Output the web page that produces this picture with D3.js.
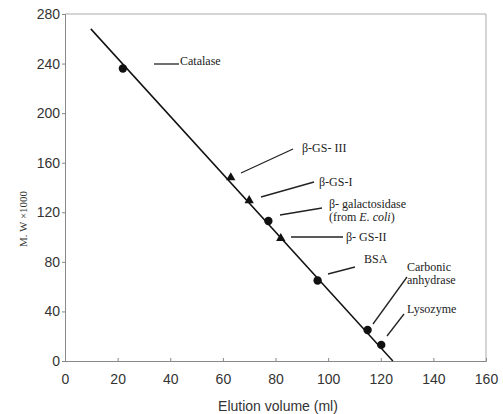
<!DOCTYPE html>
<html>
<head>
<meta charset="utf-8">
<script src="https://cdn.jsdelivr.net/npm/d3@7"></script>
<style>
  body { margin: 0; background: #fff; }
  .tick text { font-family: "Liberation Sans", Arial, sans-serif; font-size: 14px; fill: #333; }
  .lbl { font-family: "Liberation Serif", "Times New Roman", serif; font-size: 12px; fill: #222; }
</style>
</head>
<body>
<div id="chart"></div>
<script>
// proteins on the column: elution volume (ml) vs M.W x1000
var names   = ["Catalase", "β-GS- III", "β-GS-I", "β-galactosidase", "β- GS-II", "BSA", "Carbonic anhydrase", "Lysozyme"];
var elution = [22, 63, 70, 77.3, 82, 96, 115, 120.2];
var mw      = [236, 148, 129.5, 113, 99, 65, 25, 13];
var shapes  = ["circle", "triangle", "triangle", "circle", "triangle", "circle", "circle", "circle"];

// fitted calibration line end points
var fitX = [9.8, 124.6];
var fitY = [268, 0];

var xTicks = [0, 20, 40, 60, 80, 100, 120, 140, 160];
var yTicks = [0, 40, 80, 120, 160, 200, 240, 280];

var W = 503, H = 414;
var margin = {top: 14, right: 17, bottom: 53, left: 65};

var svg = d3.select("#chart").append("svg")
    .attr("width", W)
    .attr("height", H);

var x = d3.scaleLinear().domain([0, 160]).range([margin.left, W - margin.right]);
var y = d3.scaleLinear().domain([0, 280]).range([H - margin.bottom, margin.top]);

// frame (top + right)
svg.append("path")
    .attr("d", "M" + x(0) + "," + y(280) + "H" + x(160) + "V" + y(0))
    .attr("fill", "none")
    .attr("stroke", "#aaa")
    .attr("stroke-width", 1);

var xAxis = svg.append("g")
    .attr("transform", "translate(0," + y(0) + ")")
    .call(d3.axisBottom(x).tickValues(xTicks).tickSize(-3).tickPadding(13));
var yAxis = svg.append("g")
    .attr("transform", "translate(" + x(0) + ",0)")
    .call(d3.axisLeft(y).tickValues(yTicks).tickSize(3).tickPadding(2));
[xAxis, yAxis].forEach(function(g){
  g.select(".domain").attr("stroke", "#888");
  g.selectAll(".tick line").attr("stroke", "#888");
  g.attr("font-size", null).attr("font-family", null);
});

// axis titles
svg.append("text")
    .attr("x", 278).attr("y", 406)
    .attr("dy", "0.35em")
    .attr("text-anchor", "middle")
    .style("font-family", "Liberation Sans, Arial, sans-serif")
    .style("font-size", "14px")
    .style("fill", "#333")
    .text("Elution volume (ml)");

svg.append("text")
    .attr("transform", "translate(23,219) rotate(-90)")
    .attr("dy", "0.35em")
    .attr("text-anchor", "middle")
    .style("font-family", "Liberation Serif, Times New Roman, serif")
    .style("font-size", "11px")
    .style("fill", "#333")
    .text("M. W ×1000");

// calibration line
svg.append("line")
    .attr("x1", x(fitX[0])).attr("y1", y(fitY[0]))
    .attr("x2", x(fitX[1])).attr("y2", y(fitY[1]))
    .attr("stroke", "#111")
    .attr("stroke-width", 1.5);

// markers
var pts = names.map(function(n, i){ return {name: n, x: elution[i], y: mw[i], shape: shapes[i]}; });
svg.selectAll(".pt").data(pts).enter().append("path")
    .attr("class", "pt")
    .attr("transform", function(d){ return "translate(" + x(d.x) + "," + y(d.y) + ")"; })
    .attr("d", function(d){
      return d.shape == "circle" ? d3.symbol(d3.symbolCircle, 55)() : d3.symbol(d3.symbolTriangle, 38)();
    })
    .attr("fill", "#111");

// labels with leader lines (pixel layout of the annotations)
var notes = [
  {lines: ["Catalase"], tx: 180, ty: 61, l: [154, 64, 179, 64]},
  {lines: ["β-GS- III"], tx: 302, ty: 148, l: [241, 173, 293, 149]},
  {lines: ["β-GS-I"], tx: 319, ty: 182, l: [261, 197, 314, 182]},
  {lines: ["β- galactosidase", "(from <i>E. coli</i>)"], tx: 329, ty: 204, l: [280, 215, 322, 208]},
  {lines: ["β- GS-II"], tx: 346, ty: 237, l: [291, 237, 343, 237]},
  {lines: ["BSA"], tx: 364, ty: 259, l: [328, 274, 355, 267]},
  {lines: ["Carbonic", "anhydrase"], tx: 407, ty: 267, l: [373, 324, 407, 277]},
  {lines: ["Lysozyme"], tx: 407, ty: 309, l: [387, 336, 404, 314]}
];

notes.forEach(function(n){
  svg.append("line")
      .attr("x1", n.l[0]).attr("y1", n.l[1])
      .attr("x2", n.l[2]).attr("y2", n.l[3])
      .attr("stroke", "#222")
      .attr("stroke-width", 1.3);
  n.lines.forEach(function(s, k){
    var t = svg.append("text")
        .attr("class", "lbl")
        .attr("x", n.tx)
        .attr("y", n.ty + k * 13)
        .attr("dy", "0.35em");
    if (s.indexOf("<i>") >= 0) {
      t.append("tspan").text("(from ");
      t.append("tspan").style("font-style", "italic").text("E. coli");
      t.append("tspan").text(")");
    } else {
      t.text(s);
    }
  });
});
</script>
</body>
</html>
